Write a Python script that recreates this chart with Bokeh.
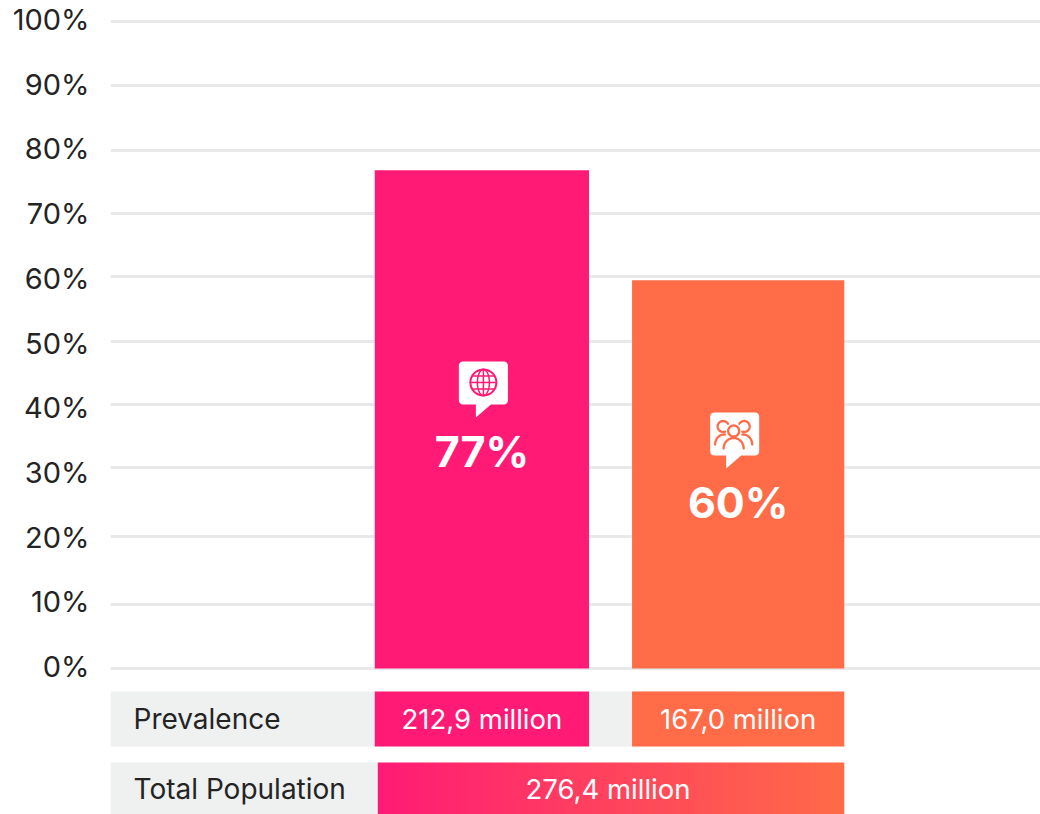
import numpy as np
from bokeh.core.properties import value
from bokeh.embed import file_html
from bokeh.layouts import column
from bokeh.models import FixedTicker, LinearAxis, Range1d
from bokeh.plotting import figure
from bokeh.resources import INLINE

# Chart values
segments = ["Global", "National"]
prevalence_pct = [77, 60]
prevalence_labels = ["77%", "60%"]
prevalence_millions = ["212,9 million", "167,0 million"]
total_population = "276,4 million"
tick_values = [0, 10, 20, 30, 40, 50, 60, 70, 80, 90, 100]
tick_labels = ["0%", "10%", "20%", "30%", "40%", "50%", "60%", "70%", "80%", "90%", "100%"]
grid_levels = [0, 9.9, 20.4, 31.07, 40.8, 50.5, 60.6, 70.3, 80.06, 90.1, 100]
row_names = ["Prevalence", "Total Population"]

# Page geometry in pixels
W, CHART_H, TABLE_H = 1040, 690, 124
LEFT = 111
Y0_PX, Y100_PX = 668, 21
SLOT0_PX, SLOT_STEP_PX = 482, 256
BAR_WIDTHS = [214 / 256, 212 / 256]
TICK_LIFT_PX = 2

PINK, ORANGE = "#FF1B75", "#FF6C47"
FONT = "Inter"
INK = "#242424"


def slot_of(px):
    return (px - SLOT0_PX) / SLOT_STEP_PX


def pct_of(py):
    return (Y0_PX - py) * 100 / (Y0_PX - Y100_PX)


x_range = Range1d(slot_of(LEFT), slot_of(W))

chart = figure(width=W, height=CHART_H, x_range=x_range,
               y_range=Range1d(pct_of(CHART_H), pct_of(0)),
               y_axis_location=None,
               output_backend="svg", toolbar_location=None,
               min_border_left=LEFT - 1, min_border_right=0, min_border_top=0, min_border_bottom=0,
               outline_line_color=None, background_fill_color="white")
chart.xaxis.visible = False
chart.xgrid.visible = False
chart.ygrid.visible = False

# The percent labels sit slightly above their gridlines, so they get a range of their own
chart.extra_y_ranges = {"labels": Range1d(pct_of(CHART_H + TICK_LIFT_PX), pct_of(TICK_LIFT_PX))}
axis = LinearAxis(y_range_name="labels", ticker=FixedTicker(ticks=tick_values))
axis.major_label_overrides = {v: t for v, t in zip(tick_values, tick_labels)}
axis.major_tick_line_color = None
axis.minor_tick_line_color = None
axis.axis_line_color = None
axis.major_label_standoff = 15
axis.major_label_text_font = FONT
axis.major_label_text_font_size = "29px"
axis.major_label_text_color = INK
chart.add_layout(axis, "left")

chart.hspan(y=grid_levels, line_color="#E8E9EA", line_width=3)

slots = list(range(len(segments)))
colors = [PINK, ORANGE]
chart.vbar(x=slots, width=BAR_WIDTHS, bottom=0, top=prevalence_pct, fill_color=colors, line_color=None)


def speech_bubble(left, top, tail_x, tail_tip_y, color):
    """White rounded speech bubble with a tail, sized in pixels."""
    w, h, r = 49, 43, 4
    pts = []
    for cx, cy, a0 in [(left + w - r, top + r, -90), (left + w - r, top + h - r, 0),
                       (left + r, top + h - r, 90), (left + r, top + r, 180)]:
        for a in np.radians(np.linspace(a0, a0 + 90, 6)):
            pts.append((cx + r * np.cos(a), cy + r * np.sin(a)))
        if a0 == 0:
            pts += [(tail_x + 15, top + h), (tail_x, tail_tip_y), (tail_x, top + h)]
    xs, ys = zip(*pts)
    chart.patch([slot_of(x) for x in xs], [pct_of(y) for y in ys], fill_color="white", line_color=None)


def stroke(points, color, width=1.7):
    chart.line([slot_of(x) for x, _ in points], [pct_of(y) for _, y in points],
               line_color=color, line_width=width, line_cap="round")


def ellipse(cx, cy, rx, ry, color, a0=0, a1=360, width=1.7):
    t = np.radians(np.linspace(a0, a1, 49))
    stroke(list(zip(cx + rx * np.cos(t), cy + ry * np.sin(t))), color, width)


# Globe icon on the first bar
speech_bubble(459, 361, 476, 417, PINK)
gx, gy = 483.5, 382
ellipse(gx, gy, 13, 13, PINK, width=2)
ellipse(gx, gy, 6, 13, PINK, width=1.5)
stroke([(gx, gy - 13), (gx, gy + 13)], PINK, 1.5)
for dy, half in [(-6.5, 11), (0, 13), (6.5, 11)]:
    stroke([(gx - half, gy + dy), (gx + half, gy + dy)], PINK, 1.5)

# People icon on the second bar
speech_bubble(710, 412, 726, 468, ORANGE)
ellipse(723, 426, 5.5, 5.5, ORANGE, 70, 330, width=2.3)
ellipse(744, 426, 5.5, 5.5, ORANGE, -150, 110, width=2.3)
ellipse(733.5, 430.5, 5.5, 5.5, ORANGE, width=2.3)
ellipse(733.5, 448, 10, 10.5, ORANGE, 180, 360, width=2.3)
ellipse(724, 444, 9, 10, ORANGE, 180, 275, width=2.3)
ellipse(743, 444, 9, 10, ORANGE, 265, 360, width=2.3)

# Share labels inside the bars
chart.text(x=slots, y=[pct_of(450), pct_of(501)], text=prevalence_labels,
           text_color="white", text_font=value(FONT), text_font_style="bold",
           text_font_size="43px", text_align="center", text_baseline="middle")

# Table rows below the chart, measured in pixels down from its top edge
table = figure(width=W, height=TABLE_H, x_range=x_range, y_range=Range1d(TABLE_H, 0),
               output_backend="svg", toolbar_location=None,
               min_border_left=LEFT - 1, min_border_right=0, min_border_top=0, min_border_bottom=0,
               outline_line_color=None, background_fill_color="white")
table.axis.visible = False
table.grid.visible = False

ROW1 = (1, 56)
ROW2 = (72, 124)
GREY = "#EFF0F0"
POP_L, POP_R = 378, 844
table.quad(left=slot_of(LEFT), right=slots[1], top=ROW1[0], bottom=ROW1[1], fill_color=GREY, line_color=None)
table.quad(left=slot_of(LEFT), right=slot_of(POP_L), top=ROW2[0], bottom=ROW2[1], fill_color=GREY, line_color=None)
table.quad(left=[s - w / 2 for s, w in zip(slots, BAR_WIDTHS)],
           right=[s + w / 2 for s, w in zip(slots, BAR_WIDTHS)],
           top=ROW1[0], bottom=ROW1[1], fill_color=colors, line_color=None)

# Horizontal pink-to-orange ramp for the total population cell
start = np.array([0xFF, 0x1B, 0x75])
end = np.array([0xFF, 0x6C, 0x47])
n = POP_R - POP_L
ramp = np.zeros((1, n), dtype=np.uint32)
view = ramp.view(dtype=np.uint8).reshape((1, n, 4))
for i in range(n):
    c = start + (end - start) * i / (n - 1)
    view[0, i] = [int(c[0]), int(c[1]), int(c[2]), 255]
table.image_rgba(image=[ramp], x=slot_of(POP_L), y=ROW2[0], dw=slot_of(POP_R) - slot_of(POP_L), dh=ROW2[1] - ROW2[0])

table.text(x=slot_of(134), y=[sum(ROW1) / 2, sum(ROW2) / 2], text=row_names, text_color=INK,
           text_font=value(FONT), text_font_size="28px", text_baseline="middle")
table.text(x=slots, y=sum(ROW1) / 2, text=prevalence_millions, text_color="white",
           text_font=value(FONT), text_font_size="27.5px", text_align="center", text_baseline="middle")
table.text(x=[slot_of((POP_L + POP_R) / 2 - 3)], y=[sum(ROW2) / 2], text=[total_population], text_color="white",
           text_font=value(FONT), text_font_size="27.5px", text_align="center", text_baseline="middle")

page = column(chart, table, spacing=0)
open("out.html", "w").write(file_html(page, INLINE))
